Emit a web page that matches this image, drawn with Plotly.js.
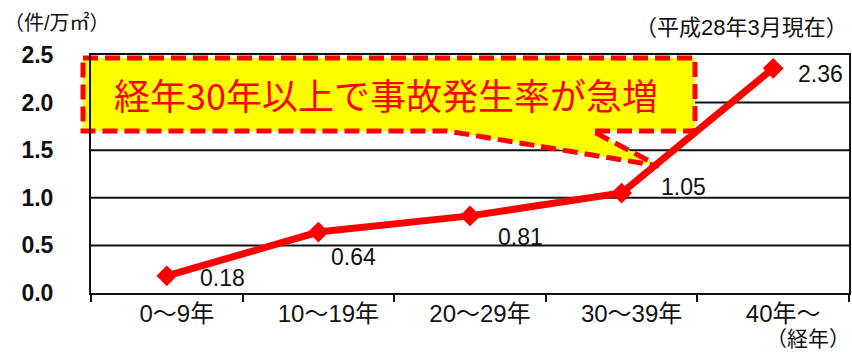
<!DOCTYPE html>
<html><head><meta charset="utf-8">
<script src="https://cdn.plot.ly/plotly-3.0.1.min.js"></script>
<style>html,body{margin:0;padding:0;background:#fff}#c{width:852px;height:352px}</style>
</head><body><div id="c"></div>
<script>
// ---- data ----
const categories = ["0～9年", "10～19年", "20～29年", "30～39年", "40年～"];
const rates = [0.18, 0.64, 0.81, 1.05, 2.36];
const yTickVals = [0, 0.5, 1.0, 1.5, 2.0, 2.5];
const yTickText = ["0.0", "0.5", "1.0", "1.5", "2.0", "2.5"];
const unitLabel = "（件/万㎡）";
const dateLabel = "（平成28年3月現在）";
const xUnitLabel = "（経年）";
const calloutText = "経年30年以上で事故発生率が急増";

// ---- layout helpers ----
const W = 852, H = 352;
const M = {l: 91, r: 3, t: 55, b: 59};
const pw = W - M.l - M.r, ph = H - M.t - M.b;
const px = x => (x - M.l) / pw;
const py = y => (H - M.b - y) / ph;
const labelShift = [[56, -2], [35, -25], [50, -21], [62, 6], [47, -6]];

const numFont = {family: "Liberation Sans, Arial, sans-serif", size: 23, color: "#111"};
const jpFont = "Liberation Sans, Noto Sans CJK JP, sans-serif";

const annotations = rates.map((v, i) => ({
  x: categories[i], y: v, xref: "x", yref: "y",
  text: v.toFixed(2), showarrow: false,
  xshift: labelShift[i][0], yshift: labelShift[i][1],
  font: numFont
}));
annotations.push(
  {xref: "paper", yref: "paper", x: px(2), y: py(22), xanchor: "left", yanchor: "middle",
   text: unitLabel, showarrow: false, font: {family: jpFont, size: 20, color: "#111"}},
  {xref: "paper", yref: "paper", x: px(850), y: py(28), xanchor: "right", yanchor: "middle",
   text: dateLabel, showarrow: false, font: {family: jpFont, size: 22, color: "#111"}},
  {xref: "paper", yref: "paper", x: px(851), y: py(338), xanchor: "right", yanchor: "middle",
   text: xUnitLabel, showarrow: false, borderpad: 0, font: {family: jpFont, size: 21, color: "#111"}},
  {xref: "paper", yref: "paper", x: px(386), y: py(94), xanchor: "center", yanchor: "middle",
   text: calloutText, showarrow: false,
   font: {family: "Noto Sans CJK JP, sans-serif", size: 36, color: "#ff0000"}}
);

const P = (x, y) => px(x).toFixed(5) + "," + py(y).toFixed(5);
const calloutPath = "M" + P(83, 58) + " L" + P(695, 58) + " L" + P(695, 131) + " L" + P(592, 131) +
  " L" + P(659, 166) + " L" + P(447, 131) + " L" + P(83, 131) + " Z";

const gridShapes = yTickVals.slice(1, -1).map(v => ({
  type: "line", xref: "paper", yref: "y", x0: 0, x1: 1, y0: v, y1: v, layer: "below",
  line: {color: "#111", width: 2}
}));

const trace = {
  x: categories, y: rates, type: "scatter", mode: "lines+markers",
  line: {color: "#ff0000", width: 7},
  marker: {symbol: "diamond", size: 16, color: "#ff0000"},
  cliponaxis: false, hoverinfo: "skip"
};

const layout = {
  width: W, height: H, margin: M,
  paper_bgcolor: "#fff", plot_bgcolor: "#fff", showlegend: false,
  xaxis: {
    type: "category", range: [-0.5, categories.length - 0.5], autorange: false,
    tickson: "boundaries", ticks: "outside", ticklen: 7, tickwidth: 2, tickcolor: "#111",
    showline: true, linecolor: "#111", linewidth: 2, mirror: true, showgrid: false,
    ticklabelshift: 10, ticklabelstandoff: -2,
    tickfont: {family: jpFont, size: 24, color: "#111"}, zeroline: false, fixedrange: true
  },
  yaxis: {
    range: [0, 2.5], autorange: false, tickvals: yTickVals, ticktext: yTickText, ticks: "",
    showline: true, linecolor: "#111", linewidth: 2, mirror: true,
    showgrid: false, zeroline: false,
    ticklabelstandoff: 31,
    tickfont: {family: "Liberation Sans, Arial, sans-serif", size: 23, color: "#111", weight: "bold"},
    fixedrange: true
  },
  shapes: gridShapes.concat([{
    type: "path", xref: "paper", yref: "paper", path: calloutPath, layer: "below",
    fillcolor: "#ffff00", line: {color: "#ff0000", width: 5, dash: "15px,7px"}
  }]),
  annotations: annotations
};

Plotly.newPlot("c", [trace], layout, {staticPlot: true});
</script>
</body></html>
